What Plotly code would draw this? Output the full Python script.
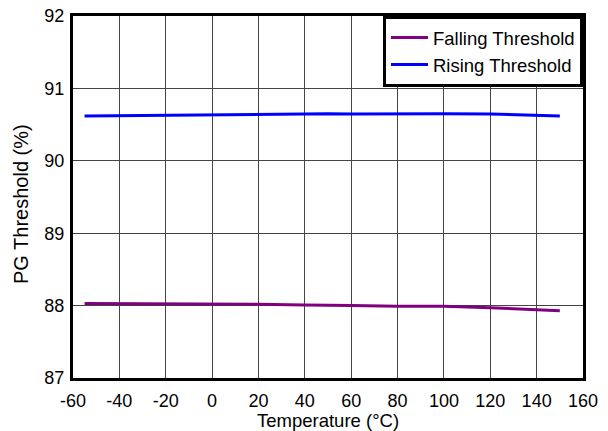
import plotly.graph_objects as go

temps = [-55, -40, -20, 0, 20, 40, 50, 60, 80, 100, 120, 140, 150]
falling = [88.03, 88.03, 88.03, 88.02, 88.02, 88.01, 88.01, 88.00, 87.99, 87.99, 87.97, 87.95, 87.93]
rising = [90.62, 90.625, 90.635, 90.64, 90.64, 90.645, 90.65, 90.645, 90.65, 90.65, 90.645, 90.63, 90.62]

x_ticks = [-60, -40, -20, 0, 20, 40, 60, 80, 100, 120, 140, 160]
y_ticks = [87, 88, 89, 90, 91, 92]

FONT = "Liberation Sans, Arial, sans-serif"
FS = 18

fig = go.Figure()
fig.add_trace(go.Scatter(x=temps, y=falling, mode="lines", name="Falling Threshold",
                         line=dict(color="#800080", width=3)))
fig.add_trace(go.Scatter(x=temps, y=rising, mode="lines", name="Rising Threshold",
                         line=dict(color="#0000FF", width=3)))

fig.update_layout(
    width=608, height=431,
    margin=dict(l=73, r=25, t=16, b=53, autoexpand=False),
    paper_bgcolor="white", plot_bgcolor="white",
    font=dict(family=FONT, size=FS, color="black"),
    showlegend=True,
    legend=dict(x=1, y=1, xanchor="right", yanchor="top",
                bordercolor="black", borderwidth=3, bgcolor="white",
                font=dict(family=FONT, size=18.5, color="black"),
                tracegroupgap=0, itemwidth=37),
    annotations=[
        dict(text="Temperature (°C)", x=0.5, y=0, xref="paper", yref="paper",
             xanchor="center", yanchor="middle", yshift=-42, showarrow=False,
             font=dict(family=FONT, size=18.5, color="black")),
        dict(text="PG Threshold (%)", x=0, y=0.5, xref="paper", yref="paper",
             xanchor="center", yanchor="middle", xshift=-52, yshift=-7, textangle=-90,
             showarrow=False, font=dict(family=FONT, size=20, color="black")),
    ],
)
fig.update_xaxes(range=[-60, 160], tickvals=x_ticks, ticktext=[str(v) for v in x_ticks],
                 showgrid=True, gridcolor="#444444", gridwidth=1,
                 showline=True, linecolor="black", linewidth=3, mirror=True,
                 ticks="", zeroline=False, automargin=False, ticklabelstandoff=4)
fig.update_yaxes(range=[87, 92], tickvals=y_ticks, ticktext=[str(v) for v in y_ticks],
                 showgrid=True, gridcolor="#444444", gridwidth=1,
                 showline=True, linecolor="black", linewidth=3, mirror=True,
                 ticks="", zeroline=False, automargin=False, ticklabelstandoff=2)

fig.write_html("out.html", config={"displayModeBar": False},
               post_script="document.body.style.margin='0';document.body.style.padding='0';")
